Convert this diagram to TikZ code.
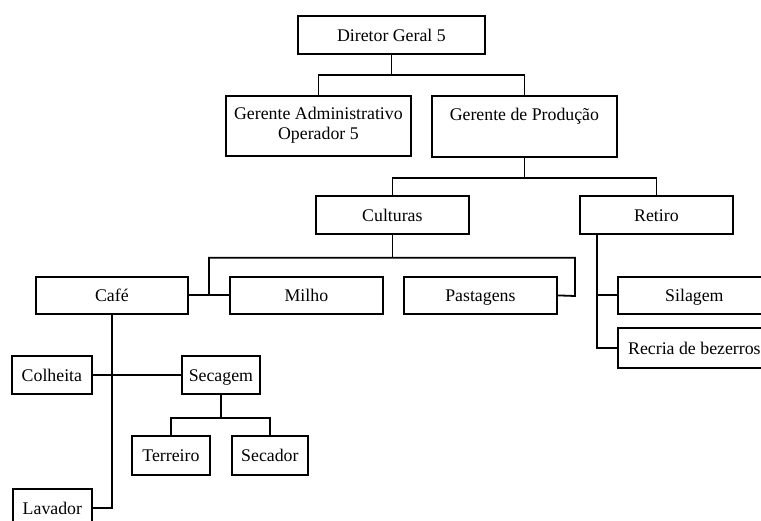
\documentclass[tikz,border=0pt]{standalone}
\usepackage{fontspec}
\setmainfont{Liberation Serif}
\begin{document}
\begin{tikzpicture}[x=1pt,y=-1pt,
  box/.style={draw, line width=1.8pt, anchor=north west, inner sep=0pt,
    minimum height=38pt, text height=13pt, text depth=0pt, align=center,
    font=\fontsize{17.8}{20}\selectfont},
  twoline/.style={text height=, text depth=},
  link/.style={line width=1.8pt}]
\useasboundingbox (0,0) rectangle (761,521);
\clip (0,0) rectangle (761,521);

% boxes (top-left corner, width, height)
\node[box, minimum width=187pt] (dir) at (297,15) {Diretor Geral 5};
\node[box, twoline, minimum width=185pt, minimum height=60pt] (ga) at (225,95)
  {\begin{tabular}{@{}c@{}}Gerente Administrativo\\Operador 5\end{tabular}};
\node[box, twoline, minimum width=185pt, minimum height=61pt] (gp) at (431,95)
  {\begin{tabular}{@{}c@{}}Gerente de Produção\\\strut\end{tabular}};
\node[box, minimum width=153pt] (cult) at (315,195) {Culturas};
\node[box, minimum width=153pt] (ret) at (579,195) {Retiro};
\node[box, minimum width=152pt, minimum height=37pt] (cafe) at (35,276) {Café};
\node[box, minimum width=153pt, minimum height=37pt] (milho) at (229,276) {Milho};
\node[box, minimum width=153pt, minimum height=37pt] (past) at (403,276) {Pastagens};
\node[box, minimum width=153pt, minimum height=37pt] (sil) at (617,276) {Silagem};
\node[box, minimum width=153pt, minimum height=40pt] (rec) at (617,327) {Recria de bezerros};
\node[box, minimum width=80pt] (col) at (11,355) {Colheita};
\node[box, minimum width=78pt] (sec) at (181,355) {Secagem};
\node[box, minimum width=78pt, minimum height=39pt] (ter) at (131,435) {Terreiro};
\node[box, minimum width=76pt, minimum height=39pt] (sdr) at (231,435) {Secador};
\node[box, minimum width=79pt] (lav) at (12,488) {Lavador};

% Diretor -> gerentes
\draw[link] (dir.south) -- ++(0,20) coordinate (j1);
\draw[link] (ga.north) |- (j1) -| (gp.north);

% Gerente de Producao -> Culturas, Retiro
\draw[link] (gp.south) -- ++(0,20) coordinate (j2);
\draw[link] (cult.north) |- (j2) -| (ret.north);

% Culturas -> Cafe, Milho, Pastagens
\draw[link] (cult.south) -- ++(0,23) coordinate (j3);
\coordinate (k1) at (209,296);
\coordinate (k2) at (575,296);
\draw[link] (cafe.east) -- (milho.west);
\draw[link] (k1) |- (j3) -| (k2) -- (past.east);

% Retiro -> Silagem, Recria
\draw[link] ([xshift=18pt]ret.south west) coordinate (r1) |- (rec.west);
\draw[link] (sil.west) -- (sil.west -| r1);

% Cafe -> Colheita, Secagem, Lavador
\draw[link] (cafe.south) |- (lav.east);
\draw[link] (col.east) -- (sec.west);

% Secagem -> Terreiro, Secador
\draw[link] (sec.south) -- ++(0,23) coordinate (j4);
\draw[link] (ter.north) |- (j4) -| (sdr.north);
\end{tikzpicture}
\end{document}
